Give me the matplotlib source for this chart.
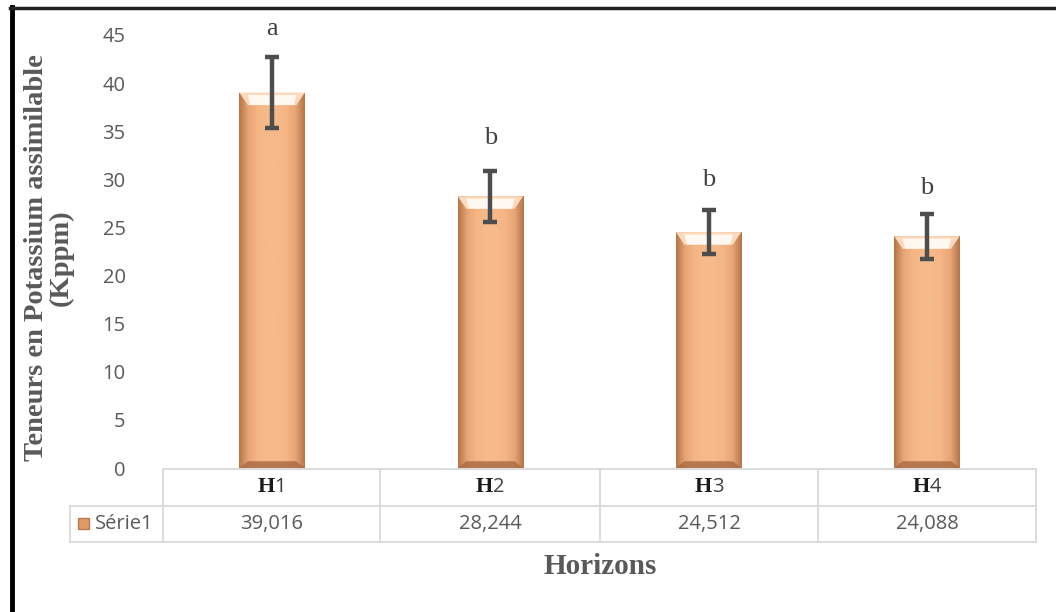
import numpy as np
import matplotlib
matplotlib.use("Agg")
import matplotlib.pyplot as plt
from matplotlib.colors import LinearSegmentedColormap
from matplotlib.patches import Polygon

categories = ["1", "2", "3", "4"]
cat_prefix = "H"
values = [39.016, 28.244, 24.512, 24.088]
errors = [3.65, 2.65, 2.25, 2.35]
value_labels = ["39,016", "28,244", "24,512", "24,088"]
letters = ["a", "b", "b", "b"]
letter_y = [45.6, 34.3, 29.9, 29.1]
series_name = "Série1"
yticks = [0, 5, 10, 15, 20, 25, 30, 35, 40, 45]

W, H = 1056, 612
fig = plt.figure(figsize=(W / 100, H / 100), dpi=100)
fig.patch.set_facecolor("white")

def fx(px):
    return px / W

def fy(py):
    return 1 - py / H

ax = fig.add_axes([fx(163), fy(468), fx(1036) - fx(163), fy(35) - fy(468)])
ax.set_xlim(-0.5, len(values) - 0.5)
ax.set_ylim(0, 45)
for s in ax.spines.values():
    s.set_visible(False)
ax.set_xticks([])
ax.set_yticks(yticks)
ax.tick_params(axis="y", length=0, pad=27, labelsize=14.5, labelcolor="#595959")
for lab in ax.get_yticklabels():
    lab.set_fontfamily("Open Sans")

x = np.arange(len(values))
bars = ax.bar(x, values, width=0.3, color="#F4B183", zorder=2)

# gradient + bevel on each bar
cmap = LinearSegmentedColormap.from_list(
    "bev", ["#B47448", "#E9A576", "#F5B584", "#F7BA8A", "#F7BA8A", "#F5B584", "#E9A576", "#B47448"])
grad = np.linspace(0, 1, 256).reshape(1, -1)
for b in bars:
    x0, w, h = b.get_x(), b.get_width(), b.get_height()
    im = ax.imshow(grad, extent=[x0, x0 + w, 0, h], aspect="auto", cmap=cmap,
                   zorder=2.1, origin="lower")
    im.set_clip_path(b)
    bev = 0.13 * w
    bh = 1.3
    top = Polygon([[x0, h], [x0 + w, h], [x0 + w - bev, h - bh], [x0 + bev, h - bh]],
                  closed=True, facecolor="#FBD9BC", edgecolor="none", zorder=2.2)
    ax.add_patch(top)
    top2 = Polygon([[x0 + bev, h - 0.25], [x0 + w - bev, h - 0.25],
                    [x0 + w - bev * 1.3, h - bh], [x0 + bev * 1.3, h - bh]],
                   closed=True, facecolor="#FFF8F0", edgecolor="none", zorder=2.3)
    ax.add_patch(top2)
    bot = Polygon([[x0, 0], [x0 + w, 0], [x0 + w - bev, 0.7], [x0 + bev, 0.7]],
                  closed=True, facecolor="#A86A42", edgecolor="none", zorder=2.2, alpha=0.8)
    ax.add_patch(bot)

ax.set_xlim(-0.5, len(values) - 0.5)
ax.set_ylim(0, 45)

ax.errorbar(x, values, yerr=errors, fmt="none", ecolor="#4D4D4D", elinewidth=3.2,
            capsize=5, capthick=3.2, zorder=3)

for xi, ly, lt in zip(x, letter_y, letters):
    ax.text(xi, ly, lt, ha="center", va="center", fontsize=19,
            family="Liberation Serif", color="#404040", zorder=4)

# data table (drawn in figure pixel coordinates)
grid_c = "#D9D9D9"
col_edges = [163, 380, 600, 818, 1036]
row_top, row_mid, row_bot = 469, 506, 542
def hline(y, x0, x1):
    fig.add_artist(plt.Line2D([fx(x0), fx(x1)], [fy(y), fy(y)], color=grid_c, lw=1.3))
def vline(xp, y0, y1):
    fig.add_artist(plt.Line2D([fx(xp), fx(xp)], [fy(y0), fy(y1)], color=grid_c, lw=1.3))
hline(row_top, 163, 1036)
hline(row_mid, 70, 1036)
hline(row_bot, 70, 1036)
for ce in col_edges:
    vline(ce, row_top, row_bot)
vline(70, row_mid, row_bot)

for i, (cat, vl) in enumerate(zip(categories, value_labels)):
    cx = (col_edges[i] + col_edges[i + 1]) / 2
    cy = (row_top + row_mid) / 2
    fig.text(fx(cx + 3), fy(cy), cat_prefix, ha="right", va="center", fontsize=16,
             family="Liberation Serif", weight="bold", color="#1A1A1A")
    fig.text(fx(cx + 3), fy(cy), cat, ha="left", va="center", fontsize=14.5,
             family="Open Sans", color="#404040")
    fig.text(fx(cx), fy((row_mid + row_bot) / 2), vl, ha="center", va="center",
             fontsize=14.5, family="Open Sans", color="#595959")

# legend key in table
fig.text(fx(95), fy((row_mid + row_bot) / 2), series_name, ha="left", va="center",
         fontsize=14.5, family="Open Sans", color="#595959")
fig.add_artist(plt.Rectangle((fx(78), fy(529)), fx(11), fy(518) - fy(529),
                             facecolor="#E09A66", edgecolor="#B9794E", lw=1))

fig.text(fx(600), fy(567), "Horizons", ha="center", va="center", fontsize=21,
         family="Liberation Serif", weight="bold", color="#595959")
fig.text(fx(49), fy(258), "Teneurs en Potassium assimilable\n(Kppm)", ha="center",
         va="center", rotation=90, fontsize=20.5, family="Liberation Serif",
         weight="bold", color="#595959", linespacing=1.0)

# outer black border (left and top)
fig.add_artist(plt.Line2D([fx(12), fx(12)], [fy(7), 0], color="black", lw=3.5))
fig.add_artist(plt.Line2D([fx(10), 1], [fy(8), fy(8)], color="#222222", lw=2.5))

fig.savefig("out.png", dpi=100, facecolor="white")
